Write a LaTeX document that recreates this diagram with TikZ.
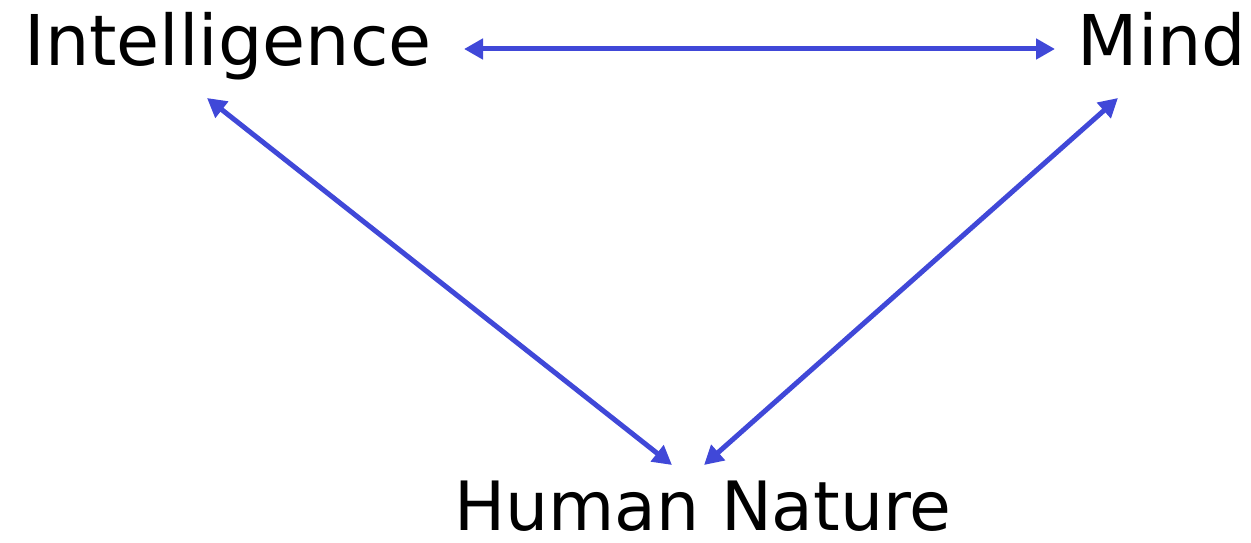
\documentclass[tikz,border=0pt]{standalone}
\usepackage{fontspec}
\setmainfont{DejaVu Sans}
\usetikzlibrary{arrows.meta}
\definecolor{arrblue}{HTML}{4048D8}
\tikzset{
  label/.style={anchor=base, inner sep=0pt, font=\fontsize{70}{84}\selectfont},
  link/.style={draw=arrblue, line width=5pt, {Triangle[length=19pt,width=20pt]}-{Triangle[length=19pt,width=20pt]}}
}
\begin{document}
\begin{tikzpicture}[x=1pt,y=-1pt]
\useasboundingbox (0,0) rectangle (1251,543);
\node[label] (int) at (228,66) {Intelligence};
\node[label] (mind) at (1162,66) {Mind};
\node[label, font=\fontsize{68}{80}\selectfont] (hn) at (703,530) {Human Nature};
\coordinate (intR) at (464,49);
\coordinate (intB) at (207,98);
\coordinate (mindL) at (1055,49);
\coordinate (mindB) at (1118,98);
\coordinate (hnL) at (672,465);
\coordinate (hnR) at (704,465);
\path[link] (intR) -- (mindL);
\path[link] (intB) -- (hnL);
\path[link] (mindB) -- (hnR);
\end{tikzpicture}
\end{document}
